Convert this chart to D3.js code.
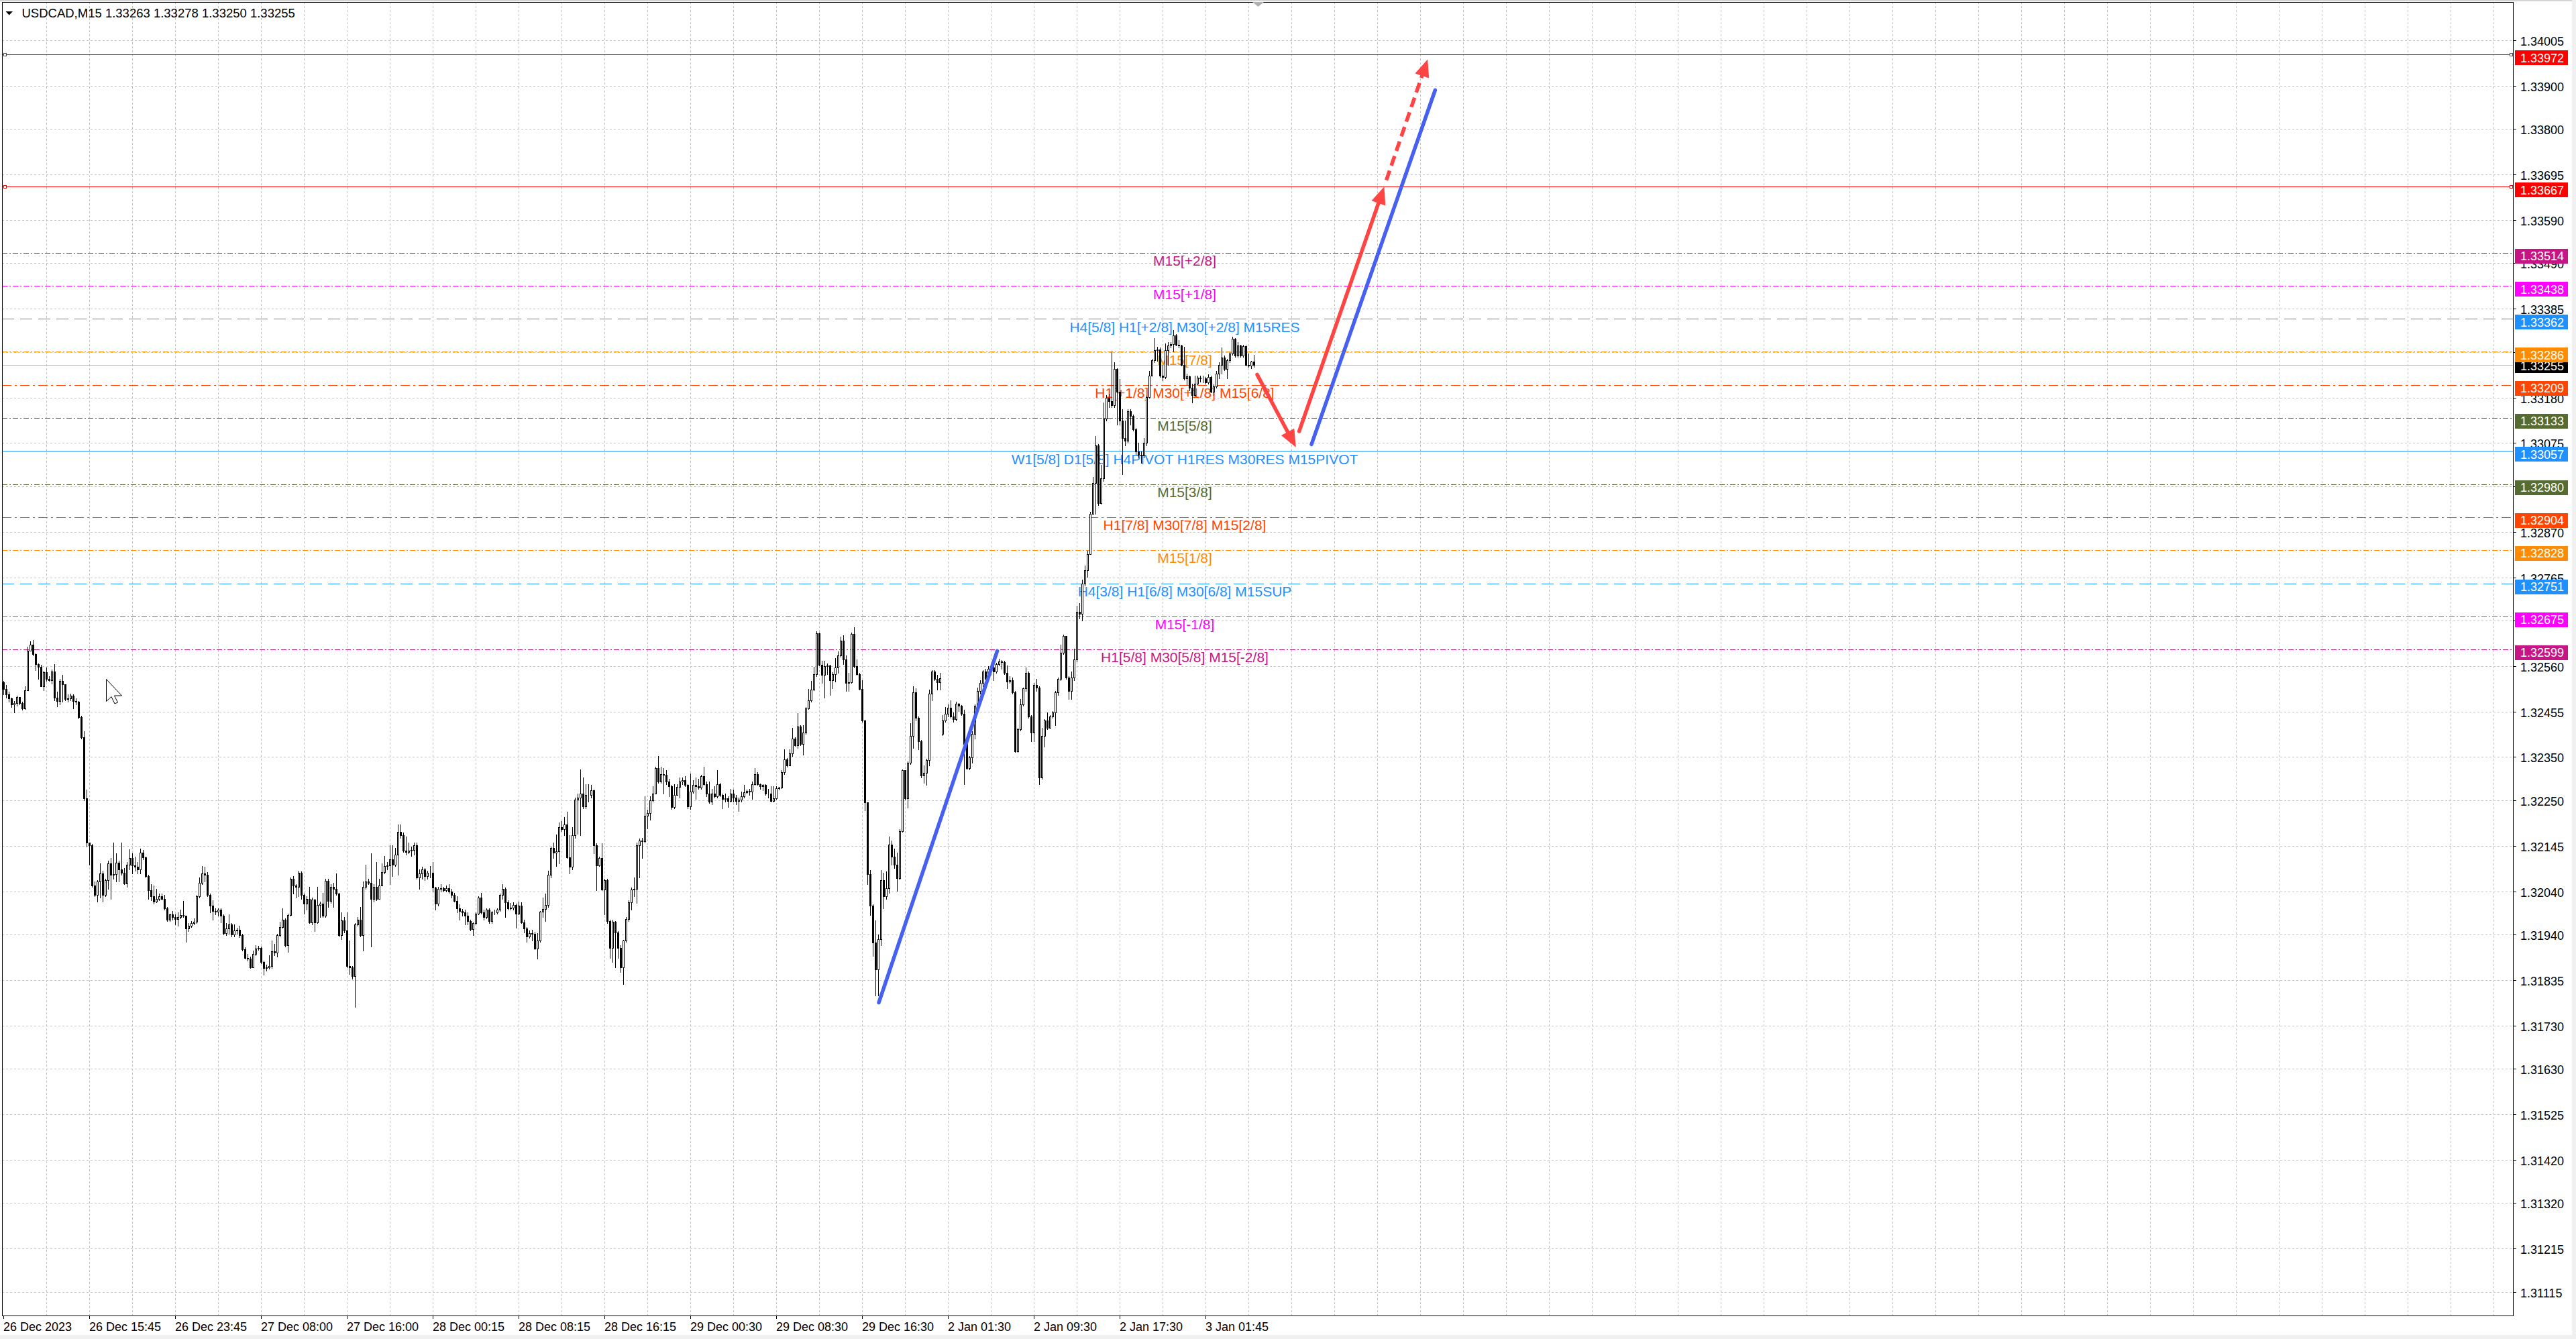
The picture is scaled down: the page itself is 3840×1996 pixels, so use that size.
<!DOCTYPE html>
<html><head><meta charset="utf-8">
<script src="https://cdn.jsdelivr.net/npm/d3@7"></script>
<style>html,body{margin:0;padding:0;background:#fff;overflow:hidden}text{font-family:"Liberation Sans",Arial,sans-serif}</style>
</head><body>
<svg id="c" width="3840" height="1996" xmlns="http://www.w3.org/2000/svg"></svg>
<script>
// ---------------- DATA ----------------
const chartTitle = "USDCAD,M15  1.33263 1.33278 1.33250 1.33255";

const barOpen = [
1.32522,1.32507,1.32495,1.32485,1.32472,1.32475,1.32489,1.32475,1.32463,1.32504,
1.32596,1.32609,1.32587,1.32565,1.32558,1.32514,1.32546,1.32531,1.32528,1.32547,
1.32487,1.32479,1.32525,1.32518,1.32484,1.32485,1.32492,1.32479,1.32478,1.32442,
1.32395,1.32254,1.32152,1.32146,1.32054,1.32032,1.32062,1.32081,1.32032,1.32066,
1.32104,1.32078,1.32080,1.32106,1.32090,1.32082,1.32058,1.32102,1.32117,1.32100,
1.32096,1.32090,1.32130,1.32118,1.32075,1.32043,1.32028,1.32016,1.32022,1.32028,
1.32022,1.32001,1.31974,1.31986,1.31981,1.31976,1.31980,1.31985,1.31983,1.31954,
1.31960,1.31966,1.31970,1.32028,1.32060,1.32081,1.32078,1.32031,1.32007,1.31995,
1.31993,1.31998,1.31983,1.31944,1.31954,1.31963,1.31940,1.31950,1.31951,1.31939,
1.31906,1.31886,1.31885,1.31865,1.31896,1.31908,1.31909,1.31877,1.31863,1.31865,
1.31867,1.31902,1.31898,1.31939,1.31958,1.31974,1.31915,1.31985,1.32069,1.32053,
1.32051,1.32082,1.32031,1.32011,1.32023,1.31968,1.32021,1.31968,1.32009,1.32011,
1.31983,1.32064,1.32017,1.32050,1.32046,1.32034,1.31939,1.31973,1.31950,1.31867,
1.31864,1.31844,1.31963,1.31974,1.31939,1.32050,1.32063,1.32060,1.32022,1.32051,
1.32023,1.32054,1.32084,1.32099,1.32100,1.32114,1.32102,1.32125,1.32177,1.32170,
1.32134,1.32131,1.32134,1.32135,1.32147,1.32072,1.32081,1.32090,1.32075,1.32082,
1.32083,1.32048,1.32011,1.32045,1.32047,1.32043,1.32047,1.32040,1.32031,1.32017,
1.32001,1.31995,1.31992,1.31983,1.31971,1.31952,1.31966,1.31989,1.32025,1.31992,
1.31980,1.31998,1.31971,1.31992,1.31991,1.31997,1.32031,1.32046,1.32015,1.32000,
1.32003,1.32009,1.31989,1.32007,1.31968,1.31954,1.31936,1.31944,1.31942,1.31908,
1.31926,1.31993,1.31999,1.32009,1.32078,1.32140,1.32130,1.32133,1.32188,1.32183,
1.32194,1.32118,1.32096,1.32170,1.32252,1.32256,1.32265,1.32236,1.32263,1.32262,
1.32273,1.32146,1.32100,1.32117,1.32044,1.32066,1.31971,1.31909,1.31970,1.31945,
1.31909,1.31865,1.31926,1.31976,1.32015,1.32044,1.32046,1.32147,1.32157,1.32155,
1.32214,1.32220,1.32250,1.32265,1.32324,1.32294,1.32310,1.32309,1.32294,1.32282,
1.32235,1.32263,1.32281,1.32294,1.32297,1.32285,1.32236,1.32270,1.32285,1.32282,
1.32279,1.32306,1.32288,1.32265,1.32247,1.32265,1.32259,1.32288,1.32262,1.32253,
1.32254,1.32248,1.32265,1.32257,1.32248,1.32251,1.32259,1.32269,1.32272,1.32270,
1.32287,1.32311,1.32288,1.32283,1.32285,1.32265,1.32266,1.32248,1.32254,1.32278,
1.32279,1.32315,1.32344,1.32331,1.32359,1.32392,1.32377,1.32421,1.32380,1.32407,
1.32463,1.32481,1.32506,1.32542,1.32635,1.32563,1.32539,1.32560,1.32562,1.32527,
1.32542,1.32557,1.32585,1.32618,1.32576,1.32521,1.32522,1.32634,1.32560,1.32542,
1.32507,1.32435,1.32245,1.32080,1.32007,1.31921,1.31860,1.31930,1.32065,1.32028,
1.32047,1.32148,1.32120,1.32102,1.32071,1.32179,1.32320,1.32255,1.32337,1.32398,
1.32499,1.32441,1.32386,1.32307,1.32313,1.32343,1.32496,1.32548,1.32530,1.32522,
1.32404,1.32435,1.32450,1.32464,1.32444,1.32438,1.32473,1.32469,1.32450,1.32380,
1.32325,1.32349,1.32404,1.32469,1.32502,1.32521,1.32548,1.32530,1.32554,1.32557,
1.32548,1.32565,1.32571,1.32569,1.32545,1.32524,1.32528,1.32499,1.32363,1.32414,
1.32472,1.32508,1.32545,1.32444,1.32407,1.32517,1.32510,1.32303,1.32398,1.32435,
1.32418,1.32444,1.32453,1.32499,1.32530,1.32591,1.32629,1.32533,1.32502,1.32533,
1.32576,1.32686,1.32680,1.32751,1.32782,1.32818,1.32911,1.32983,1.33070,1.32936,
1.32993,1.33132,1.33179,1.33171,1.33163,1.33246,1.33194,1.33127,1.33086,1.33081,
1.33148,1.33137,1.33107,1.33055,1.33047,1.33046,1.33076,1.33181,1.33230,1.33266,
1.33290,1.33291,1.33230,1.33228,1.33290,1.33300,1.33304,1.33323,1.33302,1.33300,
1.33256,1.33225,1.33229,1.33202,1.33186,1.33212,1.33226,1.33224,1.33225,1.33215,
1.33228,1.33194,1.33205,1.33235,1.33256,1.33272,1.33246,1.33266,1.33282,1.33315,
1.33277,1.33300,1.33277,1.33298,1.33256,1.33253,1.33263];

const barHigh = [
1.32525,1.32516,1.32501,1.32487,1.32479,1.32492,1.32489,1.32478,1.32513,1.32605,
1.32617,1.32620,1.32590,1.32566,1.32563,1.32549,1.32556,1.32537,1.32552,1.32565,
1.32501,1.32531,1.32540,1.32518,1.32495,1.32497,1.32495,1.32485,1.32479,1.32445,
1.32410,1.32275,1.32153,1.32149,1.32063,1.32066,1.32104,1.32087,1.32069,1.32111,
1.32117,1.32152,1.32128,1.32111,1.32153,1.32093,1.32108,1.32137,1.32128,1.32120,
1.32108,1.32139,1.32136,1.32120,1.32078,1.32057,1.32054,1.32045,1.32034,1.32034,
1.32031,1.32004,1.31989,1.31995,1.31986,1.31992,1.31998,1.32017,1.31980,1.31966,
1.31972,1.31977,1.32031,1.32072,1.32099,1.32096,1.32084,1.32034,1.32019,1.32001,
1.32001,1.32001,1.31986,1.31966,1.31986,1.31966,1.31963,1.31956,1.31960,1.31942,
1.31911,1.31895,1.31889,1.31903,1.31915,1.31914,1.31912,1.31880,1.31871,1.31892,
1.31927,1.31918,1.31942,1.31969,1.32001,1.31977,1.31989,1.32072,1.32075,1.32057,
1.32087,1.32086,1.32034,1.32028,1.32051,1.32025,1.32022,1.32051,1.32016,1.32037,
1.32069,1.32069,1.32057,1.32060,1.32081,1.32037,1.31992,1.31980,1.31992,1.31927,
1.31868,1.31966,1.31980,1.32004,1.32063,1.32102,1.32069,1.32128,1.32057,1.32108,
1.32069,1.32105,1.32122,1.32108,1.32146,1.32146,1.32140,1.32195,1.32194,1.32176,
1.32167,1.32152,1.32143,1.32152,1.32153,1.32090,1.32096,1.32093,1.32087,1.32099,
1.32108,1.32051,1.32051,1.32057,1.32051,1.32054,1.32057,1.32045,1.32037,1.32028,
1.32010,1.31999,1.31998,1.31992,1.31974,1.31968,1.31992,1.32028,1.32037,1.31998,
1.32001,1.32001,1.31995,1.31998,1.32001,1.32034,1.32056,1.32049,1.32019,1.32013,
1.32015,1.32011,1.32016,1.32015,1.31974,1.31957,1.31950,1.31951,1.31946,1.31944,
1.31995,1.32025,1.32034,1.32087,1.32143,1.32152,1.32171,1.32199,1.32202,1.32211,
1.32223,1.32170,1.32188,1.32256,1.32265,1.32321,1.32303,1.32288,1.32288,1.32285,
1.32275,1.32151,1.32120,1.32151,1.32069,1.32069,1.31974,1.31974,1.31972,1.31948,
1.31915,1.31928,1.31980,1.32019,1.32048,1.32072,1.32152,1.32161,1.32163,1.32260,
1.32229,1.32259,1.32282,1.32327,1.32352,1.32327,1.32324,1.32319,1.32300,1.32285,
1.32288,1.32287,1.32303,1.32303,1.32306,1.32288,1.32312,1.32297,1.32303,1.32300,
1.32309,1.32327,1.32294,1.32293,1.32276,1.32282,1.32319,1.32291,1.32266,1.32266,
1.32259,1.32276,1.32275,1.32262,1.32256,1.32270,1.32285,1.32275,1.32276,1.32294,
1.32325,1.32315,1.32289,1.32288,1.32288,1.32276,1.32282,1.32282,1.32283,1.32281,
1.32319,1.32368,1.32347,1.32368,1.32418,1.32395,1.32451,1.32424,1.32424,1.32466,
1.32507,1.32525,1.32558,1.32640,1.32637,1.32573,1.32573,1.32566,1.32563,1.32546,
1.32579,1.32594,1.32628,1.32631,1.32585,1.32545,1.32637,1.32650,1.32576,1.32545,
1.32527,1.32436,1.32242,1.32089,1.32010,1.31973,1.31940,1.32089,1.32083,1.32086,
1.32166,1.32157,1.32138,1.32129,1.32184,1.32322,1.32319,1.32340,1.32428,1.32514,
1.32508,1.32444,1.32389,1.32331,1.32346,1.32505,1.32551,1.32551,1.32540,1.32545,
1.32447,1.32466,1.32472,1.32481,1.32453,1.32477,1.32475,1.32470,1.32459,1.32383,
1.32352,1.32410,1.32472,1.32511,1.32527,1.32551,1.32554,1.32560,1.32565,1.32560,
1.32568,1.32577,1.32574,1.32573,1.32562,1.32536,1.32533,1.32502,1.32417,1.32484,
1.32511,1.32557,1.32548,1.32447,1.32521,1.32530,1.32514,1.32417,1.32438,1.32453,
1.32447,1.32456,1.32502,1.32533,1.32609,1.32632,1.32628,1.32536,1.32548,1.32600,
1.32700,1.32705,1.32760,1.32792,1.32826,1.32916,1.32996,1.33091,1.33073,1.33024,
1.33168,1.33186,1.33189,1.33287,1.33261,1.33248,1.33223,1.33153,1.33127,1.33153,
1.33153,1.33140,1.33109,1.33076,1.33055,1.33086,1.33184,1.33241,1.33269,1.33318,
1.33297,1.33295,1.33256,1.33305,1.33308,1.33308,1.33336,1.33326,1.33313,1.33302,
1.33297,1.33235,1.33230,1.33212,1.33230,1.33230,1.33230,1.33230,1.33228,1.33233,
1.33230,1.33210,1.33241,1.33261,1.33295,1.33277,1.33270,1.33284,1.33321,1.33318,
1.33308,1.33302,1.33302,1.33300,1.33282,1.33264,1.33278];

const barLow = [
1.32495,1.32487,1.32478,1.32466,1.32453,1.32469,1.32472,1.32459,1.32460,1.32504,
1.32596,1.32584,1.32550,1.32531,1.32513,1.32504,1.32525,1.32525,1.32519,1.32481,
1.32467,1.32472,1.32478,1.32481,1.32478,1.32481,1.32463,1.32472,1.32439,1.32392,
1.32250,1.32143,1.32102,1.32051,1.32028,1.32016,1.32025,1.32016,1.32028,1.32045,
1.32023,1.32069,1.32063,1.32063,1.32078,1.32057,1.32051,1.32090,1.32081,1.32087,
1.32081,1.32081,1.32114,1.32072,1.32022,1.32019,1.32011,1.32015,1.32019,1.32021,
1.31998,1.31971,1.31971,1.31974,1.31963,1.31960,1.31977,1.31980,1.31924,1.31948,
1.31957,1.31963,1.31966,1.32025,1.32057,1.32063,1.32028,1.31992,1.31974,1.31986,
1.31983,1.31968,1.31940,1.31939,1.31942,1.31936,1.31936,1.31942,1.31934,1.31903,
1.31885,1.31880,1.31863,1.31865,1.31892,1.31905,1.31874,1.31847,1.31857,1.31861,
1.31863,1.31892,1.31889,1.31936,1.31955,1.31912,1.31900,1.31983,1.32034,1.32025,
1.32028,1.32022,1.31989,1.31998,1.31966,1.31963,1.31948,1.31966,1.31980,1.31980,
1.31981,1.32004,1.32013,1.32004,1.32031,1.31936,1.31930,1.31945,1.31865,1.31849,
1.31838,1.31773,1.31960,1.31936,1.31903,1.32045,1.32057,1.31912,1.32016,1.32019,
1.32022,1.32053,1.32081,1.32090,1.32057,1.32075,1.32099,1.32078,1.32164,1.32131,
1.32125,1.32128,1.32122,1.32125,1.32069,1.32045,1.32069,1.32066,1.32069,1.32072,
1.32040,1.31998,1.32007,1.32040,1.32040,1.32040,1.32037,1.32025,1.32016,1.31992,
1.31974,1.31983,1.31963,1.31963,1.31950,1.31939,1.31963,1.31986,1.31989,1.31974,
1.31977,1.31966,1.31966,1.31986,1.31989,1.31995,1.32022,1.31981,1.31997,1.31998,
1.31998,1.31955,1.31987,1.31966,1.31945,1.31924,1.31933,1.31926,1.31906,1.31884,
1.31924,1.31980,1.31971,1.32004,1.32072,1.32117,1.32099,1.32105,1.32179,1.32170,
1.32117,1.32081,1.32090,1.32164,1.32173,1.32170,1.32232,1.32232,1.32247,1.32256,
1.32127,1.32043,1.32098,1.32043,1.31986,1.31966,1.31886,1.31877,1.31865,1.31886,
1.31853,1.31825,1.31924,1.31971,1.31998,1.32028,1.32013,1.32072,1.32117,1.32152,
1.32185,1.32205,1.32247,1.32265,1.32291,1.32291,1.32265,1.32288,1.32259,1.32230,
1.32232,1.32265,1.32256,1.32288,1.32282,1.32232,1.32230,1.32267,1.32253,1.32276,
1.32276,1.32285,1.32259,1.32244,1.32241,1.32256,1.32256,1.32259,1.32232,1.32247,
1.32235,1.32247,1.32247,1.32241,1.32226,1.32247,1.32256,1.32265,1.32262,1.32253,
1.32285,1.32285,1.32276,1.32273,1.32262,1.32256,1.32247,1.32247,1.32253,1.32275,
1.32278,1.32311,1.32327,1.32330,1.32353,1.32376,1.32371,1.32377,1.32356,1.32404,
1.32460,1.32478,1.32504,1.32537,1.32561,1.32521,1.32487,1.32542,1.32493,1.32508,
1.32524,1.32545,1.32582,1.32565,1.32502,1.32502,1.32521,1.32557,1.32539,1.32505,
1.32432,1.32227,1.32056,1.31985,1.31891,1.31799,1.31799,1.31915,1.32001,1.32022,
1.32037,1.32102,1.32093,1.32041,1.32068,1.32177,1.32251,1.32233,1.32334,1.32371,
1.32435,1.32368,1.32303,1.32291,1.32285,1.32330,1.32481,1.32527,1.32505,1.32505,
1.32401,1.32432,1.32444,1.32441,1.32432,1.32435,1.32456,1.32447,1.32288,1.32322,
1.32322,1.32337,1.32392,1.32466,1.32496,1.32514,1.32521,1.32527,1.32542,1.32527,
1.32545,1.32562,1.32554,1.32542,1.32508,1.32521,1.32496,1.32362,1.32362,1.32411,
1.32469,1.32502,1.32441,1.32386,1.32386,1.32502,1.32288,1.32300,1.32374,1.32414,
1.32417,1.32441,1.32423,1.32493,1.32527,1.32588,1.32530,1.32484,1.32484,1.32527,
1.32570,1.32670,1.32665,1.32746,1.32766,1.32818,1.32913,1.32911,1.32931,1.32934,
1.32988,1.33127,1.33158,1.33158,1.33158,1.33117,1.33117,1.33003,1.33070,1.33076,
1.33117,1.33104,1.33050,1.33042,1.33029,1.33042,1.33070,1.33179,1.33230,1.33261,
1.33264,1.33228,1.33220,1.33225,1.33256,1.33295,1.33287,1.33300,1.33295,1.33253,
1.33222,1.33210,1.33197,1.33168,1.33184,1.33210,1.33217,1.33215,1.33212,1.33212,
1.33192,1.33186,1.33202,1.33225,1.33235,1.33243,1.33225,1.33261,1.33279,1.33274,
1.33274,1.33274,1.33274,1.33253,1.33250,1.33247,1.33250];

const barClose = [
1.32507,1.32495,1.32485,1.32472,1.32475,1.32489,1.32475,1.32463,1.32504,1.32596,
1.32609,1.32587,1.32565,1.32558,1.32514,1.32546,1.32531,1.32528,1.32547,1.32487,
1.32479,1.32525,1.32518,1.32484,1.32485,1.32492,1.32479,1.32478,1.32442,1.32395,
1.32254,1.32152,1.32146,1.32054,1.32032,1.32062,1.32081,1.32032,1.32066,1.32104,
1.32078,1.32080,1.32106,1.32090,1.32082,1.32058,1.32102,1.32117,1.32100,1.32096,
1.32090,1.32130,1.32118,1.32075,1.32043,1.32028,1.32016,1.32022,1.32028,1.32022,
1.32001,1.31974,1.31986,1.31981,1.31976,1.31980,1.31985,1.31983,1.31954,1.31960,
1.31966,1.31970,1.32028,1.32060,1.32081,1.32078,1.32031,1.32007,1.31995,1.31993,
1.31998,1.31983,1.31944,1.31954,1.31963,1.31940,1.31950,1.31951,1.31939,1.31906,
1.31886,1.31885,1.31865,1.31896,1.31908,1.31909,1.31877,1.31863,1.31865,1.31867,
1.31902,1.31898,1.31939,1.31958,1.31974,1.31915,1.31985,1.32069,1.32053,1.32051,
1.32082,1.32031,1.32011,1.32023,1.31968,1.32021,1.31968,1.32009,1.32011,1.31983,
1.32064,1.32017,1.32050,1.32046,1.32034,1.31939,1.31973,1.31950,1.31867,1.31864,
1.31844,1.31963,1.31974,1.31939,1.32050,1.32063,1.32060,1.32022,1.32051,1.32023,
1.32054,1.32084,1.32099,1.32100,1.32114,1.32102,1.32125,1.32177,1.32170,1.32134,
1.32131,1.32134,1.32135,1.32147,1.32072,1.32081,1.32090,1.32075,1.32082,1.32083,
1.32048,1.32011,1.32045,1.32047,1.32043,1.32047,1.32040,1.32031,1.32017,1.32001,
1.31995,1.31992,1.31983,1.31971,1.31952,1.31966,1.31989,1.32025,1.31992,1.31980,
1.31998,1.31971,1.31992,1.31991,1.31997,1.32031,1.32046,1.32015,1.32000,1.32003,
1.32009,1.31989,1.32007,1.31968,1.31954,1.31936,1.31944,1.31942,1.31908,1.31926,
1.31993,1.31999,1.32009,1.32078,1.32140,1.32130,1.32133,1.32188,1.32183,1.32194,
1.32118,1.32096,1.32170,1.32252,1.32256,1.32265,1.32236,1.32263,1.32262,1.32273,
1.32146,1.32100,1.32117,1.32044,1.32066,1.31971,1.31909,1.31970,1.31945,1.31909,
1.31865,1.31926,1.31976,1.32015,1.32044,1.32046,1.32147,1.32157,1.32155,1.32214,
1.32220,1.32250,1.32265,1.32324,1.32294,1.32310,1.32309,1.32294,1.32282,1.32235,
1.32263,1.32281,1.32294,1.32297,1.32285,1.32236,1.32270,1.32285,1.32282,1.32279,
1.32306,1.32288,1.32265,1.32247,1.32265,1.32259,1.32288,1.32262,1.32253,1.32254,
1.32248,1.32265,1.32257,1.32248,1.32251,1.32259,1.32269,1.32272,1.32270,1.32287,
1.32311,1.32288,1.32283,1.32285,1.32265,1.32266,1.32248,1.32254,1.32278,1.32279,
1.32315,1.32344,1.32331,1.32359,1.32392,1.32377,1.32421,1.32380,1.32407,1.32463,
1.32481,1.32506,1.32542,1.32635,1.32563,1.32539,1.32560,1.32562,1.32527,1.32542,
1.32557,1.32585,1.32618,1.32576,1.32521,1.32522,1.32634,1.32560,1.32542,1.32507,
1.32435,1.32245,1.32080,1.32007,1.31921,1.31860,1.31930,1.32065,1.32028,1.32047,
1.32148,1.32120,1.32102,1.32071,1.32179,1.32320,1.32255,1.32337,1.32398,1.32499,
1.32441,1.32386,1.32307,1.32313,1.32343,1.32496,1.32548,1.32530,1.32522,1.32532,
1.32435,1.32450,1.32464,1.32444,1.32438,1.32473,1.32469,1.32450,1.32380,1.32325,
1.32349,1.32404,1.32469,1.32502,1.32521,1.32548,1.32530,1.32554,1.32557,1.32548,
1.32565,1.32571,1.32569,1.32545,1.32524,1.32528,1.32499,1.32363,1.32414,1.32472,
1.32508,1.32545,1.32444,1.32407,1.32517,1.32510,1.32303,1.32398,1.32435,1.32418,
1.32444,1.32453,1.32499,1.32530,1.32591,1.32629,1.32533,1.32502,1.32533,1.32576,
1.32686,1.32680,1.32751,1.32782,1.32818,1.32911,1.32983,1.33070,1.32936,1.32993,
1.33132,1.33179,1.33171,1.33163,1.33246,1.33194,1.33127,1.33086,1.33081,1.33148,
1.33137,1.33107,1.33055,1.33047,1.33046,1.33076,1.33181,1.33230,1.33266,1.33290,
1.33291,1.33230,1.33228,1.33290,1.33300,1.33304,1.33323,1.33302,1.33300,1.33256,
1.33225,1.33229,1.33202,1.33186,1.33212,1.33226,1.33224,1.33225,1.33215,1.33228,
1.33194,1.33205,1.33235,1.33256,1.33272,1.33246,1.33266,1.33282,1.33315,1.33277,
1.33300,1.33277,1.33298,1.33256,1.33253,1.33263,1.33255];

const timeTickBars = [0,32,64,96,128,160,192,224,256,288,320,352,384,416,448];
const timeTickLabels = ["26 Dec 2023","26 Dec 15:45","26 Dec 23:45","27 Dec 08:00","27 Dec 16:00",
  "28 Dec 00:15","28 Dec 08:15","28 Dec 16:15","29 Dec 00:30","29 Dec 08:30","29 Dec 16:30",
  "2 Jan 01:30","2 Jan 09:30","2 Jan 17:30","3 Jan 01:45"];

const priceTicks = [1.34005,1.33900,1.33800,1.33695,1.33590,1.33490,1.33385,1.33285,1.33180,1.33075,
  1.32975,1.32870,1.32765,1.32665,1.32560,1.32455,1.32350,1.32250,1.32145,1.32040,1.31940,1.31835,
  1.31730,1.31630,1.31525,1.31420,1.31320,1.31215,1.31115];

const levelPrices = [1.33972,1.33667,1.33514,1.33438,1.33362,1.33286,1.33209,1.33133,1.33057,
  1.32980,1.32904,1.32828,1.32751,1.32675,1.32599];
const levelKinds = ["target","target","ext2","ext1","resSup","oct7","oct6","oct5","pivot",
  "oct5","oct6","oct7","resSup","ext1","ext2"];
const levelLabels = ["","","M15[+2/8]","M15[+1/8]","H4[5/8] H1[+2/8] M30[+2/8] M15RES","M15[7/8]",
  "H1[+1/8] M30[+1/8] M15[6/8]","M15[5/8]","W1[5/8] D1[5/8] H4PIVOT H1RES M30RES M15PIVOT","M15[3/8]",
  "H1[7/8] M30[7/8] M15[2/8]","M15[1/8]","H4[3/8] H1[6/8] M30[6/8] M15SUP","M15[-1/8]",
  "H1[5/8] M30[5/8] M15[-2/8]"];

// drawn forecast (bar index, price)
const forecastDown   = [[467.25,1.33233],[481.7,1.33065]];
const forecastUp     = [[482.9,1.33102],[514.6,1.33667]];
const forecastExt    = [[515.4,1.33682],[530.8,1.33961]];
const trendPast      = [[326.25,1.31783],[370.4,1.32595]];
const trendFuture    = [[487.5,1.33072],[533.6,1.33890]];

// ---------------- STYLE ----------------
const kindStyle = {
  target:{color:"#FF0000",dash:null},
  ext2:{color:"#C71585",dash:"8,3,2,3"},
  ext1:{color:"#FF00FF",dash:"8,3,2,3"},
  resSup:{color:"#1E90FF",dash:"18,9"},
  oct7:{color:"#FF8C00",dash:"8,3,2,3"},
  oct6:{color:"#FF4500",dash:"14,5,3,5"},
  oct5:{color:"#556B2F",dash:"8,3,2,3"},
  pivot:{color:"#1E90FF",dash:null}
};
const W=3840,H=1996;
const P={left:3,right:3746,top:3,bottom:1961};

const x = d3.scaleLinear().domain([0,466]).range([5,1869]);
const y = d3.scaleLinear().domain([1.31115,1.34005]).range([1925.8,60]);

const svg = d3.select("#c");
svg.append("rect").attr("width",W).attr("height",H).attr("fill","#ffffff");
svg.append("rect").attr("x",0).attr("y",0).attr("width",W).attr("height",2).attr("fill","#d4d4d4");
svg.append("rect").attr("x",3834).attr("y",0).attr("width",6).attr("height",H).attr("fill","#f0f0f0");
svg.append("rect").attr("x",0).attr("y",1990).attr("width",W).attr("height",6).attr("fill","#f0f0f0");

const defs = svg.append("defs");
defs.append("clipPath").attr("id","pc").append("rect")
  .attr("x",P.left).attr("y",P.top).attr("width",P.right-P.left).attr("height",P.bottom-P.top);

const g = svg.append("g").attr("clip-path","url(#pc)");

// grid
const gridG = g.append("g").attr("stroke","#c3c3c3").attr("stroke-width",1).attr("stroke-dasharray","3,3").attr("shape-rendering","crispEdges");
priceTicks.forEach(p=>{
  const yy=Math.round(y(p))+0.5;
  gridG.append("line").attr("x1",P.left).attr("x2",P.right).attr("y1",yy).attr("y2",yy);
});
d3.range(1,59).forEach(k=>{
  const xx=Math.round(x(16*k))+0.5;
  gridG.append("line").attr("x1",xx).attr("x2",xx).attr("y1",P.top).attr("y2",P.bottom);
});

// level lines
const lvG = g.append("g").attr("shape-rendering","crispEdges");
levelPrices.forEach((p,i)=>{
  const st=kindStyle[levelKinds[i]];
  const yy=Math.round(y(p))+0.5;
  const ln=lvG.append("line").attr("x1",P.left).attr("x2",P.right).attr("y1",yy).attr("y2",yy)
    .attr("stroke",st.color).attr("stroke-width",1);
  if(st.dash) ln.attr("stroke-dasharray",st.dash);
});
// current price line
const lastClose = barClose[barClose.length-1];
lvG.append("line").attr("x1",P.left).attr("x2",P.right)
  .attr("y1",Math.round(y(lastClose))+0.5).attr("y2",Math.round(y(lastClose))+0.5)
  .attr("stroke","#c0c0c0").attr("stroke-width",1);

// level text labels
levelPrices.forEach((p,i)=>{
  if(!levelLabels[i]) return;
  g.append("text").attr("x",1766).attr("y",y(p)+19.5).attr("text-anchor","middle")
    .attr("font-size",21).attr("fill",kindStyle[levelKinds[i]].color).text(levelLabels[i]);
});

// target line end markers
levelPrices.forEach((p,i)=>{
  if(levelKinds[i]!=="target") return;
  const yy=Math.round(y(p));
  [5,3741].forEach(xx=>{
    g.append("rect").attr("x",xx+0.5).attr("y",yy-1.5).attr("width",4).attr("height",4)
      .attr("fill","#fff").attr("stroke","#FF0000").attr("stroke-width",1).attr("shape-rendering","crispEdges");
  });
});

// candles
const cG = g.append("g").attr("shape-rendering","crispEdges");
barClose.forEach((c,i)=>{
  const o=barOpen[i], h=barHigh[i], l=barLow[i];
  const xi=Math.round(x(i));
  const top=Math.max(h,o,c), bot=Math.min(l,o,c);
  cG.append("line").attr("x1",xi+0.5).attr("x2",xi+0.5)
    .attr("y1",Math.round(y(top))).attr("y2",Math.round(y(bot))+1)
    .attr("stroke","#000").attr("stroke-width",1);
  const yt=Math.round(y(Math.max(o,c))), yb=Math.round(y(Math.min(o,c)));
  cG.append("rect").attr("x",xi-0.5).attr("y",yt+0.5).attr("width",2).attr("height",Math.max(0,yb-yt))
    .attr("fill", c>=o?"#ffffff":"#000000").attr("stroke","#000").attr("stroke-width",1);
});

// forecast drawings
function pt(d){return [x(d[0]),y(d[1])];}
function arrow(seg,color,dashed){
  const a=pt(seg[0]), b=pt(seg[1]);
  const dx=b[0]-a[0], dy=b[1]-a[1], L=Math.hypot(dx,dy);
  const ux=dx/L, uy=dy/L, nx=-uy, ny=ux;
  const hl=26, hw=11;
  const ex=b[0]-ux*(hl-4), ey=b[1]-uy*(hl-4);
  const ln=g.append("line").attr("x1",a[0]).attr("y1",a[1]).attr("x2",ex).attr("y2",ey)
    .attr("stroke",color).attr("stroke-width",5.5).attr("stroke-linecap",dashed?"butt":"round");
  if(dashed) ln.attr("stroke-dasharray","15,8");
  const bx=b[0]-ux*hl, by=b[1]-uy*hl;
  g.append("path").attr("d",`M${b[0]},${b[1]}L${bx+nx*hw},${by+ny*hw}L${bx-nx*hw},${by-ny*hw}Z`)
    .attr("fill",color);
}
function trend(seg,color){
  const a=pt(seg[0]), b=pt(seg[1]);
  g.append("line").attr("x1",a[0]).attr("y1",a[1]).attr("x2",b[0]).attr("y2",b[1])
    .attr("stroke",color).attr("stroke-width",5.5).attr("stroke-linecap","round");
}
trend(trendPast,"#4660F0");
trend(trendFuture,"#4660F0");
arrow(forecastDown,"#FF4444",false);
arrow(forecastUp,"#FF4444",false);
arrow(forecastExt,"#FF4444",true);

// mouse cursor
g.append("path").attr("transform","translate(158.5,1012.5)")
  .attr("d","M0,0 L0,33 L7.5,26 L12.5,36.5 L17,34.5 L12,24.5 L23,24.5 Z")
  .attr("fill","#fff").attr("stroke","#000").attr("stroke-width",1);

// frame
svg.append("rect").attr("x",P.left+0.5).attr("y",P.top+0.5).attr("width",P.right-P.left).attr("height",P.bottom-P.top)
  .attr("fill","none").attr("stroke","#000").attr("stroke-width",1).attr("shape-rendering","crispEdges");
// chart-shift marker
svg.append("path").attr("d","M1867,3 L1884,3 L1875.5,10 Z").attr("fill","#b0b0b0");

// title
svg.append("path").attr("d","M8.5,17 L19,17 L13.75,22.5 Z").attr("fill","#000");
svg.append("text").attr("x",32.5).attr("y",26).attr("font-size",18.5).attr("fill","#000").text(chartTitle);

// price axis
const axG = svg.append("g");
priceTicks.forEach(p=>{
  const yy=Math.round(y(p))+0.5;
  axG.append("line").attr("x1",P.right+0.5).attr("x2",P.right+5).attr("y1",yy).attr("y2",yy)
    .attr("stroke","#000").attr("shape-rendering","crispEdges");
  axG.append("text").attr("x",3757).attr("y",y(p)+8).attr("font-size",18).attr("fill","#000").text(p.toFixed(5));
});
// price boxes (current price first, beneath the level boxes)
function box(p,color,dy){
  const yy=y(p);
  axG.append("rect").attr("x",3749).attr("y",Math.round(yy-6+dy)).attr("width",79).attr("height",22).attr("fill",color);
  axG.append("text").attr("x",3757).attr("y",yy+11.5+dy).attr("font-size",18).attr("fill","#fff").text(p.toFixed(5));
}
box(lastClose,"#000000",-4);
levelPrices.forEach((p,i)=>box(p,kindStyle[levelKinds[i]].color,0));

// time axis
timeTickBars.forEach((b,i)=>{
  const xx=Math.round(x(b))+0.5;
  axG.append("line").attr("x1",xx).attr("x2",xx).attr("y1",P.bottom+0.5).attr("y2",P.bottom+5)
    .attr("stroke","#000").attr("shape-rendering","crispEdges");
  axG.append("text").attr("x",xx-0.5).attr("y",1984).attr("font-size",18).attr("fill","#000").text(timeTickLabels[i]);
});
</script>
</body></html>
